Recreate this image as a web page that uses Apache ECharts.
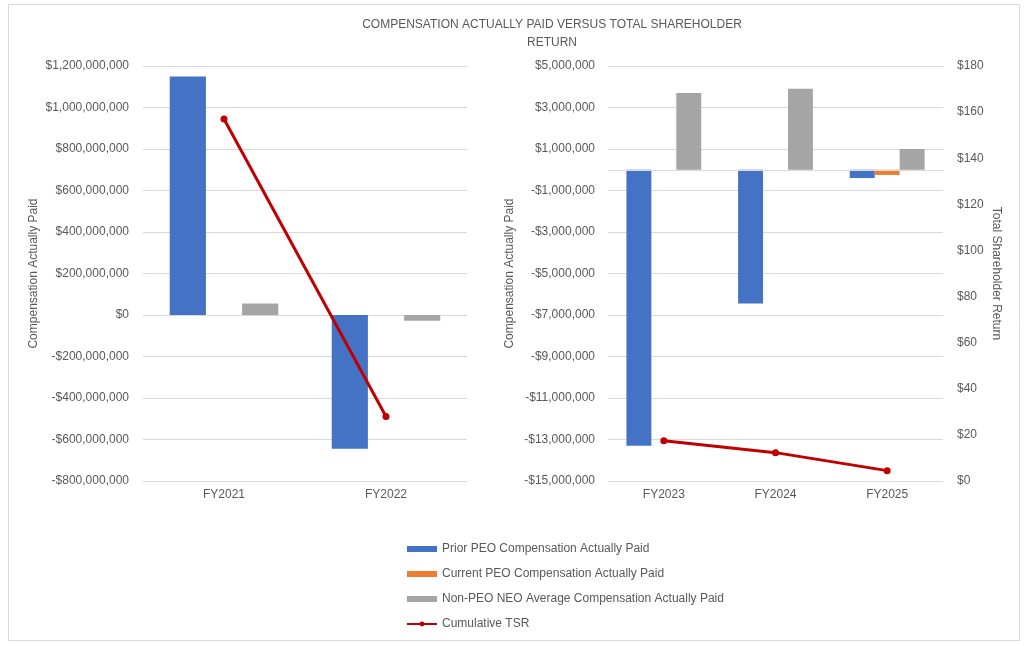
<!DOCTYPE html>
<html>
<head>
<meta charset="utf-8">
<script src="https://cdn.jsdelivr.net/npm/echarts@6/dist/echarts.min.js"></script>
<style>html,body{margin:0;padding:0;background:#fff;}#c{width:1027px;height:646px;}</style>
</head>
<body>
<div id="c"></div>
<script>
const catsLeft = ['FY2021', 'FY2022'];
const catsRight = ['FY2023', 'FY2024', 'FY2025'];
const priorPeoLeft = [1150000000, -645000000];
const currentPeoLeft = [null, null];
const nonPeoLeft = [55000000, -28000000];
const tsrLeft = [157, 28];
const priorPeoRight = [-13300000, -6450000, -400000];
const currentPeoRight = [null, null, -250000];
const nonPeoRight = [3700000, 3900000, 1000000];
const tsrRight = [17.5, 12.3, 4.5];
const seriesNames = ['Prior PEO Compensation Actually Paid', 'Current PEO Compensation Actually Paid', 'Non-PEO NEO Average Compensation Actually Paid', 'Cumulative TSR'];

const FONT = 'Liberation Sans';
const TXT = '#595959';
const GRID = '#d9d9d9';
const C_BLUE = '#4472C4', C_ORANGE = '#ED7D31', C_GRAY = '#A5A5A5', C_RED = '#C00000';

function money(v) {
  return (v < 0 ? '-' : '') + '$' + Math.abs(v).toLocaleString('en-US');
}

const chart = echarts.init(document.getElementById('c'), null, {renderer: 'canvas'});
const lab = {color: TXT, fontFamily: FONT, fontSize: 12};

function barSeries(name, data, color, xi, yi, extra) {
  return Object.assign({
    type: 'bar', name: name, data: data, xAxisIndex: xi, yAxisIndex: yi,
    itemStyle: {color: color}, barGap: '0%', barCategoryGap: '33%'
  }, extra || {});
}
function lineSeries(name, data, xi, yi) {
  return {
    type: 'line', name: name, data: data, xAxisIndex: xi, yAxisIndex: yi,
    symbol: 'circle', symbolSize: 7, z: 5,
    lineStyle: {color: C_RED, width: 3}, itemStyle: {color: C_RED}
  };
}

chart.setOption({
  animation: false,
  backgroundColor: '#fff',
  title: {
    text: 'COMPENSATION ACTUALLY PAID VERSUS TOTAL SHAREHOLDER\nRETURN',
    left: 547, top: 11, textAlign: 'center',
    textStyle: {color: TXT, fontFamily: FONT, fontSize: 12, fontWeight: 'normal', lineHeight: 18}
  },
  graphic: [{
    type: 'rect', shape: {x: 8.5, y: 4.5, width: 1011, height: 636},
    style: {fill: 'none', stroke: GRID, lineWidth: 1}, silent: true, z: -1
  }],
  legend: {
    orient: 'vertical', left: 401, top: 538, itemGap: 13,
    itemWidth: 30, itemHeight: 6,
    textStyle: {color: TXT, fontFamily: FONT, fontSize: 12},
    data: [
      {name: seriesNames[0], icon: 'rect'},
      {name: seriesNames[1], icon: 'rect'},
      {name: seriesNames[2], icon: 'rect'},
      {name: seriesNames[3]}
    ]
  },
  grid: [
    {left: 143, right: 560, top: 66, bottom: 165, containLabel: false},
    {left: 608, right: 84, top: 66, bottom: 165, containLabel: false}
  ],
  xAxis: [
    {type: 'category', gridIndex: 0, data: catsLeft, axisLine: {show: false}, axisTick: {show: false},
     axisLabel: Object.assign({margin: 8}, lab)},
    {type: 'category', gridIndex: 1, data: catsRight, axisLine: {show: false}, axisTick: {show: false},
     axisLabel: Object.assign({margin: 8}, lab)}
  ],
  yAxis: [
    {type: 'value', gridIndex: 0, min: -800000000, max: 1200000000, interval: 200000000,
     axisLine: {show: false}, axisTick: {show: false},
     splitLine: {lineStyle: {color: GRID, width: 1}},
     axisLabel: Object.assign({margin: 14, formatter: money}, lab),
     name: 'Compensation Actually Paid', nameLocation: 'middle', nameGap: 103,
     nameTextStyle: {color: TXT, fontFamily: FONT, fontSize: 12}},
    {type: 'value', gridIndex: 0, min: 0, max: 180, show: false, splitLine: {show: false}},
    {type: 'value', gridIndex: 1, min: -15000000, max: 5000000, interval: 2000000,
     axisLine: {show: false}, axisTick: {show: false},
     splitLine: {lineStyle: {color: GRID, width: 1}},
     axisLabel: Object.assign({margin: 13, formatter: money}, lab),
     name: 'Compensation Actually Paid', nameLocation: 'middle', nameGap: 92,
     nameTextStyle: {color: TXT, fontFamily: FONT, fontSize: 12}},
    {type: 'value', gridIndex: 1, position: 'right', min: 0, max: 180, interval: 20,
     axisLine: {show: false}, axisTick: {show: false}, splitLine: {show: false},
     axisLabel: Object.assign({margin: 14, formatter: v => '$' + v}, lab),
     name: 'Total Shareholder Return', nameLocation: 'middle', nameGap: 47, nameRotate: -90,
     nameTextStyle: {color: TXT, fontFamily: FONT, fontSize: 12}}
  ],
  series: [
    barSeries(seriesNames[0], priorPeoLeft, C_BLUE, 0, 0),
    barSeries(seriesNames[1], currentPeoLeft, C_ORANGE, 0, 0),
    barSeries(seriesNames[2], nonPeoLeft, C_GRAY, 0, 0),
    lineSeries(seriesNames[3], tsrLeft, 0, 1),
    barSeries(seriesNames[0], priorPeoRight, C_BLUE, 1, 2, {
      markLine: {silent: true, symbol: 'none', label: {show: false},
        lineStyle: {color: GRID, type: 'solid', width: 1}, data: [{yAxis: 0}]}
    }),
    barSeries(seriesNames[1], currentPeoRight, C_ORANGE, 1, 2),
    barSeries(seriesNames[2], nonPeoRight, C_GRAY, 1, 2),
    lineSeries(seriesNames[3], tsrRight, 1, 3)
  ]
});
</script>
</body>
</html>
